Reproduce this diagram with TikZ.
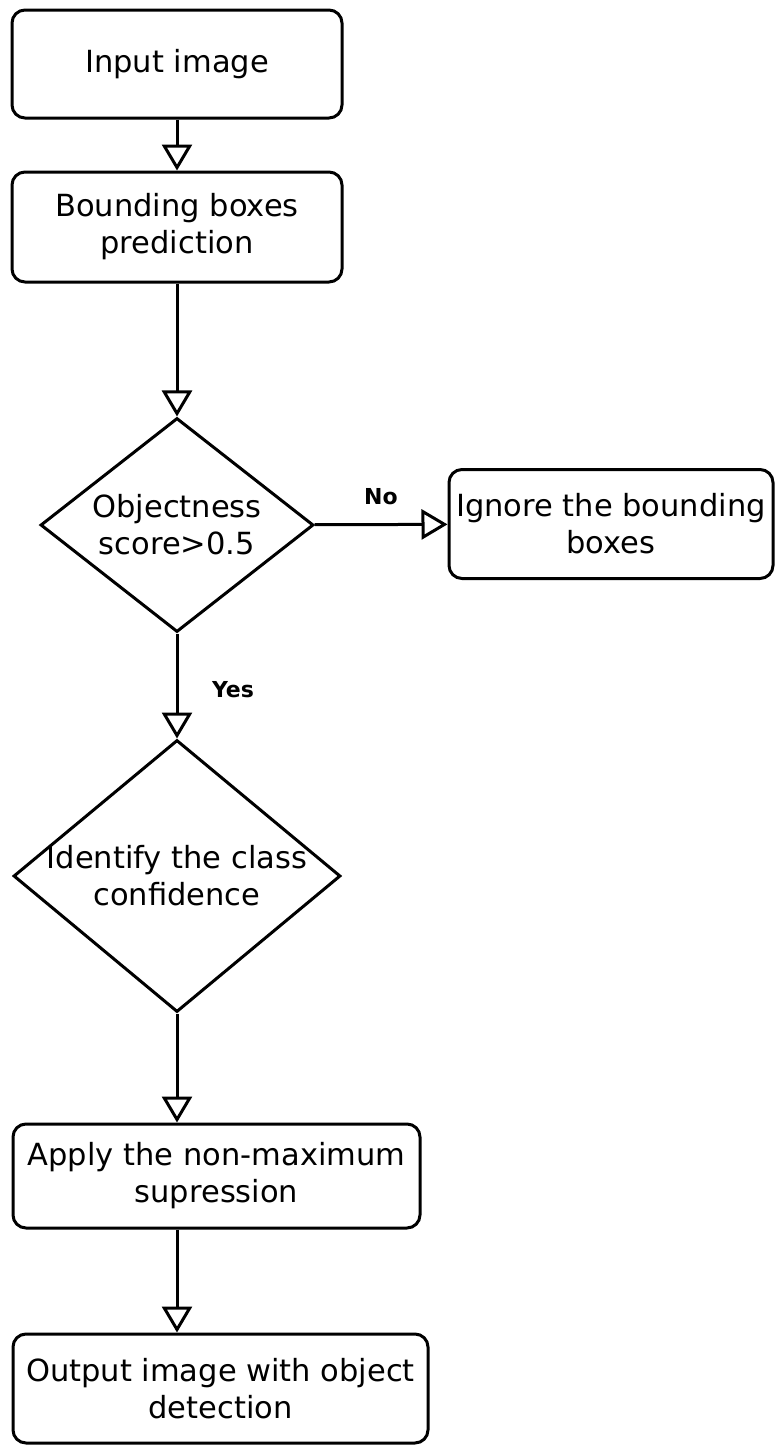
\documentclass[tikz,border=0pt]{standalone}
\usepackage{fontspec}
\setmainfont{DejaVu Sans}
\usetikzlibrary{arrows.meta,shapes.geometric,calc}
\begin{document}
\begin{tikzpicture}[x=1pt,y=-1pt,
  box/.style={draw,line width=3pt,rounded corners=13pt,inner sep=0pt,align=center,font=\fontsize{30.5}{37}\selectfont},
  dia/.style={draw,line width=3pt,diamond,inner sep=0pt},
  txt/.style={align=center,font=\fontsize{30.5}{37}\selectfont},
  lbl/.style={font=\fontsize{22}{24}\selectfont\bfseries,inner sep=0pt},
  arr/.style={line width=3pt,-{Triangle[open,length=26pt,width=30pt,line width=3pt]}}
]
\useasboundingbox (0,0) rectangle (775,1446);
\node[box,minimum width=330pt,minimum height=108pt] (in) at (177,64) {Input image};
\node[box,minimum width=330pt,minimum height=110pt] (bb) at (177,227) {Bounding boxes\\prediction};
\node[dia,minimum width=273pt,minimum height=214pt] (d1) at (177,525) {};
\node[txt] (t1) at (d1.center) {Objectness\\score>0.5};
\node[box,minimum width=324pt,minimum height=109pt] (ig) at (611,524) {Ignore the bounding\\boxes};
\node[dia,minimum width=327pt,minimum height=272pt] (d2) at (177,876) {};
\node[txt] (t2) at (d2.center) {Identify the class\\confidence};
\node[box,minimum width=407pt,minimum height=104pt] (ap) at (216.5,1176) {Apply the non-maximum\\supression};
\node[box,minimum width=415pt,minimum height=109pt] (out) at (220.5,1388.5) {Output image with object\\detection};
\draw[arr] (in) -- (bb);
\draw[arr] (bb) -- (d1);
\draw[arr] (d1) -- (ig);
\draw[arr] (d1) -- (d2);
\draw[arr] (d2) -- (d2|-ap.north);
\draw[arr] (ap.south-|d2) -- (d2|-out.north);
\node[lbl] (no) at (381,497) {No};
\node[lbl] (yes) at (233,690) {Yes};
\end{tikzpicture}
\end{document}
